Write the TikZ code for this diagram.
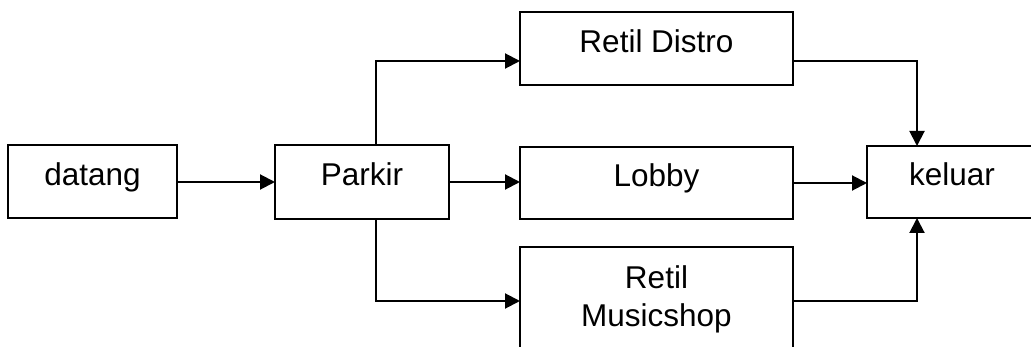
\documentclass[tikz,border=0pt]{standalone}
\usepackage{fontspec}
\setmainfont{Liberation Sans}
\usetikzlibrary{arrows.meta}
\begin{document}
\begin{tikzpicture}[x=1pt,y=-1pt,
  every node/.style={font=\fontsize{31.5}{38}\selectfont},
  box/.style={draw, line width=2pt, inner sep=0pt, outer sep=0pt,
              text height=14pt, text depth=6pt},
  tallbox/.style={draw, line width=2pt, inner sep=0pt, outer sep=0pt, align=center},
  flow/.style={line width=2pt, -{Triangle[length=15pt,width=15pt]}}]
\useasboundingbox (0,0) rectangle (1031,347);
\clip (0,0) rectangle (1031,347);

% process steps
\node[box, minimum width=169pt, minimum height=73pt] (datang) at (92.5,182) {datang};
\node[box, minimum width=174pt, minimum height=74pt] (parkir) at (362,182) {Parkir};
\node[box, minimum width=273pt, minimum height=73pt] (distro) at (656.5,48.5) {Retil Distro};
\node[box, minimum width=273pt, minimum height=72pt] (lobby) at (656.5,183) {Lobby};
\node[tallbox, minimum width=273pt, minimum height=104pt] (music) at (656.5,299) {Retil\\Musicshop};
\node[box, minimum width=170pt, minimum height=72pt] (keluar) at (952,182) {keluar};

% routing helpers
\coordinate (pv) at (376,0);
\coordinate (kv) at (917,0);
\coordinate (dIn) at ([yshift=-12.5pt]distro.west);
\coordinate (dOut) at ([yshift=-12.5pt]distro.east);
\coordinate (mIn) at ([yshift=-2pt]music.west);
\coordinate (mOut) at ([yshift=-2pt]music.east);

% connectors
\draw[flow] (datang.east) -- (datang.east -| parkir.west);
\draw[flow] (pv |- parkir.north) -- (pv |- dIn) -- (dIn);
\draw[flow] (parkir.east) -- (parkir.east -| lobby.west);
\draw[flow] (pv |- parkir.south) -- (pv |- mIn) -- (mIn);
\draw[flow] (dOut) -- (kv |- dOut) -- (kv |- keluar.north);
\draw[flow] (lobby.east) -- (lobby.east -| keluar.west);
\draw[flow] (mOut) -- (kv |- mOut) -- (kv |- keluar.south);
\end{tikzpicture}
\end{document}
